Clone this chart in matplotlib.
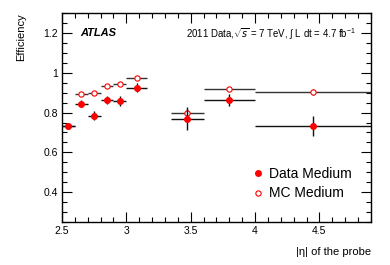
import numpy as np
import matplotlib
matplotlib.use("Agg")
import matplotlib.pyplot as plt
from matplotlib.ticker import MultipleLocator
from matplotlib.lines import Line2D

plt.rcParams['font.family'] = ['Liberation Sans', 'DejaVu Sans']
plt.rcParams['mathtext.fontset'] = 'custom'
plt.rcParams['mathtext.rm'] = 'Liberation Sans'

# Bins in |eta| of the probe
bin_lo = [2.5, 2.6, 2.7, 2.8, 2.9, 3.0, 3.35, 3.6, 4.0]
bin_hi = [2.6, 2.7, 2.8, 2.9, 3.0, 3.16, 3.6, 4.0, 4.9]
eta = [2.55, 2.65, 2.75, 2.85, 2.95, 3.08, 3.475, 3.8, 4.45]

# Efficiencies
data_eff = [0.73, 0.845, 0.785, 0.865, 0.86, 0.925, 0.768, 0.862, 0.732]
data_err = [0.015, 0.017, 0.022, 0.02, 0.025, 0.022, 0.058, 0.03, 0.05]
mc_eff = [0.73, 0.893, 0.898, 0.932, 0.945, 0.973, 0.797, 0.92, 0.903]
mc_err = [0.005, 0.005, 0.005, 0.005, 0.005, 0.006, 0.02, 0.008, 0.017]

eta = np.array(eta)
xerr = [eta - np.array(bin_lo), np.array(bin_hi) - eta]

fig = plt.figure(figsize=(3.9, 2.65), dpi=100)
ax = fig.add_axes([0.159, 0.162, 0.792, 0.789])

ax.errorbar(eta, mc_eff, xerr=xerr, yerr=mc_err, fmt='o', ms=3.8,
            mfc='white', mec='red', mew=0.8, ecolor='#333333', elinewidth=1.0,
            capsize=0, zorder=2)
ax.errorbar(eta, data_eff, xerr=xerr, yerr=data_err, fmt='o', ms=4.0,
            mfc='red', mec='red', ecolor='#111111', elinewidth=1.0,
            capsize=0, zorder=3)

ax.set_xlim(2.5, 4.9)
ax.set_ylim(0.25, 1.3)
ax.xaxis.set_minor_locator(MultipleLocator(0.1))
ax.yaxis.set_minor_locator(MultipleLocator(0.05))
ax.set_yticks([0.4, 0.6, 0.8, 1.0, 1.2])
ax.set_yticklabels(['0.4', '0.6', '0.8', '1', '1.2'])
ax.set_xticks([2.5, 3, 3.5, 4, 4.5])
ax.set_xticklabels(['2.5', '3', '3.5', '4', '4.5'])
ax.tick_params(which='both', direction='in', top=True, right=True,
               labelsize=7.5, width=0.8)
ax.tick_params(which='major', length=7, pad=3)
ax.tick_params(which='minor', length=3.5)
for s in ax.spines.values():
    s.set_linewidth(1.0)

ax.set_ylabel('Efficiency', fontsize=8, loc='top', labelpad=12)
ax.set_xlabel('|η| of the probe', fontsize=8, loc='right', labelpad=8)

ax.text(0.058, 0.905, 'ATLAS', transform=ax.transAxes, fontsize=8,
        fontweight='bold', fontstyle='italic', va='center')
ax.text(0.4, 0.9, r'2011 Data,$\sqrt{s}$ = 7 TeV, $\int$ L dt = 4.7 fb$^{-1}$',
        transform=ax.transAxes, fontsize=6.9, va='center')

handles = [Line2D([], [], ls='none', marker='o', ms=4.0, mfc='red', mec='red'),
           Line2D([], [], ls='none', marker='o', ms=3.8, mfc='white', mec='red', mew=0.8)]
ax.legend(handles, ['Data Medium', 'MC Medium'], loc='lower right',
          bbox_to_anchor=(0.96, 0.07), frameon=False, fontsize=10,
          handlelength=0.6, handletextpad=0.5, labelspacing=0.4, borderpad=0)

fig.savefig('out.png', dpi=100)
